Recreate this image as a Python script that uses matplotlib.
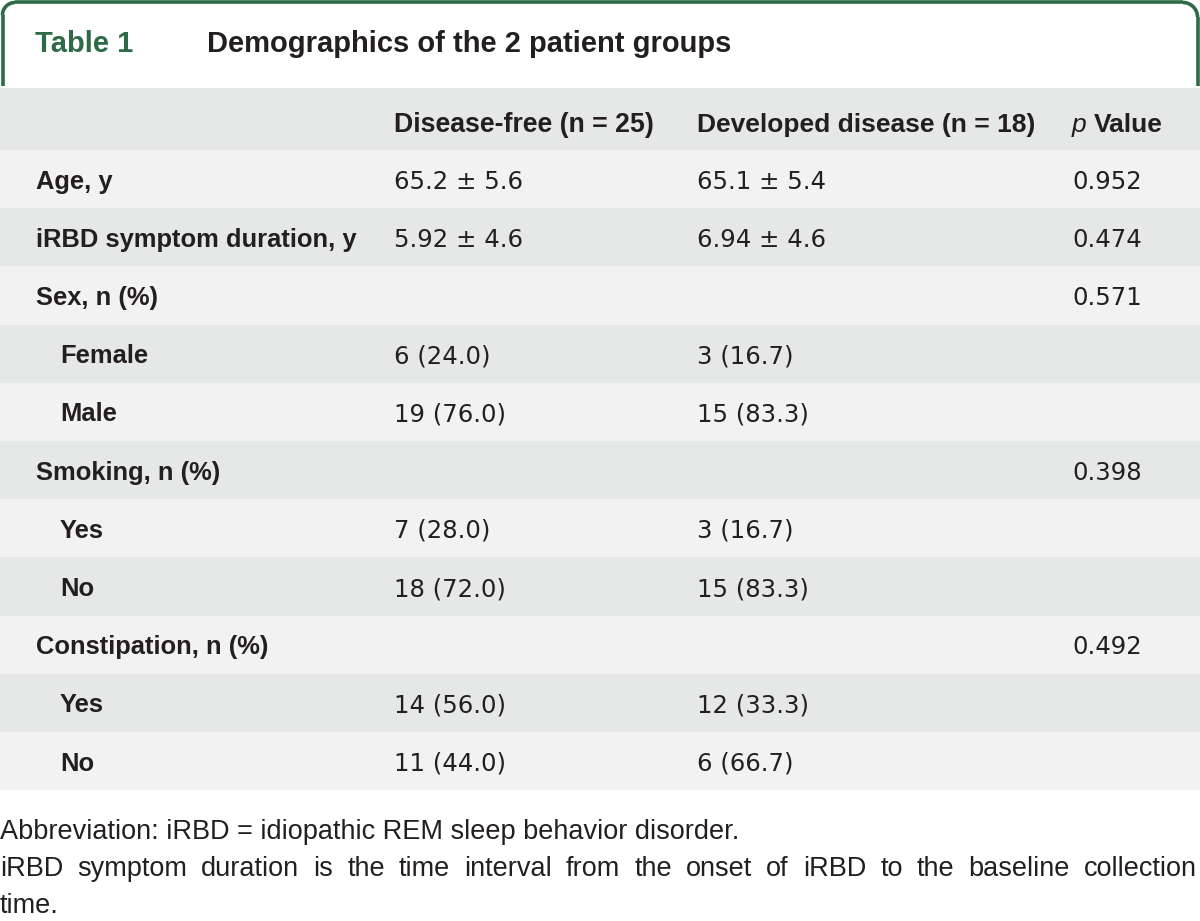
import matplotlib
matplotlib.use('Agg')
import matplotlib.pyplot as plt
from matplotlib.patches import Rectangle, Arc

plt.rcParams['font.family'] = ['Liberation Sans', 'DejaVu Sans']

title_num = 'Table 1'
title_text = 'Demographics of the 2 patient groups'
col_heads = ['Disease-free (n = 25)', 'Developed disease (n = 18)']

row_labels = ['Age, y', 'iRBD symptom duration, y', 'Sex, n (%)', 'Female', 'Male',
              'Smoking, n (%)', 'Yes', 'No', 'Constipation, n (%)', 'Yes', 'No']
row_indent = [0, 0, 0, 1, 1, 0, 1, 1, 0, 1, 1]
free_vals = ['65.2 \u00b1 5.6', '5.92 \u00b1 4.6', '', '6 (24.0)', '19 (76.0)', '',
             '7 (28.0)', '18 (72.0)', '', '14 (56.0)', '11 (44.0)']
dev_vals = ['65.1 \u00b1 5.4', '6.94 \u00b1 4.6', '', '3 (16.7)', '15 (83.3)', '',
            '3 (16.7)', '15 (83.3)', '', '12 (33.3)', '6 (66.7)']
p_vals = ['0.952', '0.474', '0.571', '', '', '0.398', '', '', '0.492', '', '']

footnotes = ['Abbreviation: iRBD = idiopathic REM sleep behavior disorder.',
             'iRBD symptom duration is the time interval from the onset of iRBD to the baseline collection',
             'time.']
justify = [False, True, False]

W, H = 1200, 921
green = '#2d6a45'
dark_band = '#e6e7e7'
light_band = '#f2f2f2'
txt = '#231f20'

fig = plt.figure(figsize=(W / 100, H / 100), dpi=100)
ax = fig.add_axes([0, 0, 1, 1])
ax.set_xlim(0, W)
ax.set_ylim(H, 0)
ax.axis('off')

# green frame round the title
ax.plot([2.5, 2.5], [86, 15], color=green, lw=2.6, solid_capstyle='butt')
ax.plot([15, 1183], [2.5, 2.5], color=green, lw=2.6, solid_capstyle='butt')
ax.plot([1197.5, 1197.5], [17, 86], color=green, lw=2.6, solid_capstyle='butt')
ax.add_patch(Arc((15, 15), 25, 25, theta1=180, theta2=270, color=green, lw=2.6))
ax.add_patch(Arc((1183, 17), 29, 29, theta1=270, theta2=360, color=green, lw=2.6))

ax.text(35, 52.5, title_num, color=green, fontsize=21, fontweight='bold', va='baseline')
ax.text(207, 52.5, title_text, color=txt, fontsize=21, fontweight='bold', va='baseline')

# header row
head_top, head_h = 88, 62
ax.add_patch(Rectangle((0, head_top), W, head_h, color=dark_band, lw=0))
xs = [394, 697, 1072]
yh = 132
ax.text(xs[0], yh, col_heads[0], color=txt, fontsize=19.2, fontweight='bold', va='baseline')
ax.text(xs[1], yh, col_heads[1], color=txt, fontsize=19, fontweight='bold', va='baseline')
ax.text(xs[2], yh, 'p', color=txt, fontsize=19, fontstyle='italic', va='baseline')
ax.text(1094, yh, 'Value', color=txt, fontsize=19, fontweight='bold', va='baseline')

# body rows
row_top, row_h = 150, 58.2
for i, lab in enumerate(row_labels):
    y0 = row_top + i * row_h
    ax.add_patch(Rectangle((0, y0), W, row_h, lw=0,
                           color=light_band if i % 2 == 0 else dark_band))
    yb = y0 + row_h / 2 + 9.5
    ax.text(36 + 24 * row_indent[i], yb, lab, color=txt, fontsize=18.4,
            fontweight='bold', va='baseline')
    for x, v in zip(xs, [free_vals[i], dev_vals[i], p_vals[i]]):
        if v:
            ax.text(x, yb, v, color=txt, fontsize=17.6, family='DejaVu Sans',
                    va='baseline')

# footnotes, the middle one stretched to the full width
renderer = fig.canvas.get_renderer()
for j, line in enumerate(footnotes):
    yb = 839 + j * 37
    if not justify[j]:
        ax.text(0, yb, line, color=txt, fontsize=19.5, va='baseline')
        continue
    words = line.split(' ')
    parts = [ax.text(0, yb, w, color=txt, fontsize=19.5, va='baseline') for w in words]
    widths = [p.get_window_extent(renderer).width for p in parts]
    gap = (1197 - sum(widths)) / (len(words) - 1)
    x = 0
    for p, w in zip(parts, widths):
        p.set_x(x)
        x += w + gap

fig.savefig('out.png', dpi=100, facecolor='white')
